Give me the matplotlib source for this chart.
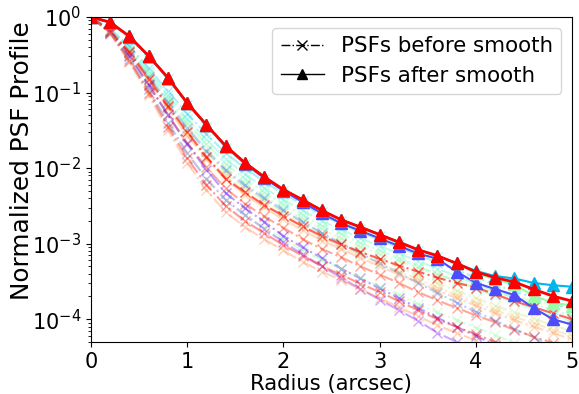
import numpy as np
import matplotlib
matplotlib.use("Agg")
import matplotlib.pyplot as plt
from matplotlib import cm

radius = [0.0, 0.2, 0.4, 0.6, 0.8, 1.0, 1.2, 1.4, 1.6, 1.8, 2.0, 2.2, 2.4,
          2.6, 2.8, 3.0, 3.2, 3.4, 3.6, 3.8, 4.0, 4.2, 4.4, 4.6, 4.8, 5.0]

# PSFs before smooth: log10 of normalized profile, with rainbow colour fraction
before_cfrac = [0.35, 0.30, 0.40, 0.47, 0.58, 0.65, 0.15, 0.72, 0.80, 0.97,
                0.92, 0.05, 0.00, 0.55, 1.00, 0.83]
before_alpha = [0.35, 0.35, 0.35, 0.35, 0.35, 0.35, 0.35, 0.35, 0.35, 0.65,
                0.45, 0.45, 0.35, 0.35, 0.4, 0.35]
before_log = [
    [0, -0.09, -0.28, -0.54, -0.82, -1.16, -1.45, -1.73, -1.95, -2.14, -2.30, -2.44, -2.58, -2.70, -2.80, -2.90, -3.00, -3.10, -3.18, -3.28, -3.39, -3.47, -3.53, -3.62, -3.71, -3.78],
    [0, -0.16, -0.38, -0.68, -0.98, -1.28, -1.55, -1.80, -2.00, -2.18, -2.34, -2.48, -2.62, -2.74, -2.85, -2.95, -3.05, -3.15, -3.25, -3.35, -3.45, -3.54, -3.63, -3.71, -3.79, -3.87],
    [0, -0.17, -0.40, -0.72, -1.03, -1.35, -1.62, -1.88, -2.08, -2.26, -2.42, -2.56, -2.70, -2.81, -2.93, -3.03, -3.13, -3.23, -3.33, -3.43, -3.53, -3.62, -3.72, -3.80, -3.88, -3.96],
    [0, -0.17, -0.42, -0.74, -1.07, -1.40, -1.68, -1.94, -2.14, -2.32, -2.48, -2.62, -2.76, -2.87, -2.99, -3.09, -3.19, -3.30, -3.40, -3.50, -3.60, -3.69, -3.78, -3.87, -3.95, -4.03],
    [0, -0.18, -0.44, -0.77, -1.11, -1.44, -1.74, -2.00, -2.20, -2.37, -2.53, -2.67, -2.81, -2.93, -3.04, -3.14, -3.23, -3.32, -3.41, -3.49, -3.57, -3.64, -3.70, -3.76, -3.81, -3.86],
    [0, -0.18, -0.45, -0.80, -1.15, -1.50, -1.79, -2.06, -2.26, -2.43, -2.59, -2.73, -2.87, -2.98, -3.10, -3.20, -3.31, -3.42, -3.52, -3.62, -3.72, -3.82, -3.91, -3.99, -4.08, -4.16],
    [0, -0.18, -0.45, -0.79, -1.13, -1.47, -1.77, -2.03, -2.23, -2.40, -2.56, -2.71, -2.86, -3.00, -3.13, -3.26, -3.39, -3.52, -3.65, -3.78, -3.90, -4.02, -4.13, -4.24, -4.35, -4.45],
    [0, -0.18, -0.47, -0.82, -1.19, -1.54, -1.85, -2.11, -2.31, -2.48, -2.64, -2.78, -2.92, -3.04, -3.15, -3.26, -3.37, -3.47, -3.58, -3.68, -3.78, -3.88, -3.97, -4.05, -4.14, -4.22],
    [0, -0.19, -0.48, -0.84, -1.21, -1.57, -1.88, -2.15, -2.35, -2.52, -2.68, -2.82, -2.96, -3.07, -3.19, -3.30, -3.41, -3.51, -3.62, -3.72, -3.82, -3.92, -4.01, -4.10, -4.18, -4.27],
    [0, -0.19, -0.47, -0.82, -1.18, -1.52, -1.85, -2.14, -2.32, -2.49, -2.63, -2.77, -2.90, -3.01, -3.11, -3.20, -3.29, -3.37, -3.45, -3.52, -3.58, -3.67, -3.76, -3.84, -3.92, -4.00],
    [0, -0.20, -0.51, -0.89, -1.29, -1.67, -1.99, -2.27, -2.47, -2.64, -2.79, -2.94, -3.07, -3.18, -3.30, -3.41, -3.52, -3.64, -3.75, -3.85, -3.95, -4.04, -4.14, -4.23, -4.31, -4.40],
    [0, -0.20, -0.52, -0.90, -1.30, -1.68, -2.02, -2.33, -2.53, -2.71, -2.90, -3.05, -3.19, -3.33, -3.46, -3.59, -3.72, -3.85, -3.98, -4.10, -4.22, -4.34, -4.45, -4.56, -4.66, -4.76],
    [0, -0.21, -0.56, -0.96, -1.40, -1.80, -2.14, -2.42, -2.62, -2.80, -2.98, -3.14, -3.30, -3.45, -3.60, -3.74, -3.88, -4.02, -4.18, -4.30, -4.42, -4.53, -4.64, -4.75, -4.85, -4.95],
    [0, -0.21, -0.56, -0.96, -1.40, -1.80, -2.14, -2.42, -2.62, -2.79, -2.94, -3.09, -3.22, -3.33, -3.45, -3.57, -3.68, -3.80, -3.91, -4.01, -4.11, -4.21, -4.31, -4.40, -4.49, -4.57],
    [0, -0.21, -0.58, -1.00, -1.45, -1.87, -2.22, -2.50, -2.70, -2.86, -3.02, -3.16, -3.30, -3.41, -3.53, -3.64, -3.76, -3.88, -4.00, -4.10, -4.20, -4.30, -4.40, -4.48, -4.57, -4.66],
    [0, -0.22, -0.60, -1.03, -1.50, -1.93, -2.29, -2.58, -2.78, -2.94, -3.09, -3.24, -3.37, -3.48, -3.60, -3.72, -3.84, -3.96, -4.08, -4.18, -4.28, -4.38, -4.48, -4.57, -4.66, -4.75],
]

# PSFs after smooth (log10), drawn in this order (red last, on top)
after_cfrac = [0.10, 0.55, 0.25, 1.00]
after_log = [
    [0, -0.071, -0.26, -0.52, -0.81, -1.14, -1.43, -1.71, -1.94, -2.13, -2.30, -2.45, -2.60, -2.73, -2.83, -2.93, -3.03, -3.13, -3.20, -3.37, -3.52, -3.60, -3.68, -3.85, -4.00, -4.07],
    [0, -0.071, -0.257, -0.516, -0.804, -1.137, -1.427, -1.707, -1.929, -2.116, -2.284, -2.42, -2.56, -2.684, -2.78, -2.88, -2.98, -3.08, -3.16, -3.26, -3.39, -3.47, -3.54, -3.69, -3.78, -3.82],
    [0, -0.071, -0.257, -0.516, -0.804, -1.137, -1.427, -1.707, -1.929, -2.116, -2.284, -2.42, -2.56, -2.684, -2.78, -2.88, -2.98, -3.08, -3.16, -3.26, -3.36, -3.43, -3.46, -3.52, -3.55, -3.57],
    [0, -0.071, -0.257, -0.516, -0.804, -1.137, -1.427, -1.707, -1.929, -2.116, -2.284, -2.42, -2.56, -2.684, -2.78, -2.88, -2.98, -3.08, -3.16, -3.26, -3.373, -3.449, -3.507, -3.604, -3.693, -3.76],
]

legend_labels = ["PSFs before smooth", "PSFs after smooth"]

plt.rcParams['font.family'] = ['DejaVu Sans']
plt.rcParams['font.size'] = 15

fig = plt.figure(figsize=(5.79, 3.94), dpi=100)
ax = fig.add_axes([0.157, 0.132, 0.831, 0.825])

r = np.array(radius)
for cf, al, vals in zip(before_cfrac, before_alpha, before_log):
    ax.plot(r, 10 ** np.array(vals), linestyle='-.', marker='x', ms=7,
            lw=1.5, color=cm.rainbow(cf), alpha=al)

for i, (cf, vals) in enumerate(zip(after_cfrac, after_log)):
    last = i == len(after_log) - 1
    ax.plot(r, 10 ** np.array(vals), linestyle='-', marker='^',
            ms=9 if last else 8, lw=2.0 if last else 1.5, color=cm.rainbow(cf))

ax.plot([], [], 'k-.x', lw=1.0, ms=7, label=legend_labels[0])
ax.plot([], [], 'k-^', lw=1.0, ms=7, label=legend_labels[1])

ax.set_yscale('log')
ax.set_xlim(0, 5)
ax.set_ylim(5e-5, 1)
ax.set_xticks([0, 1, 2, 3, 4, 5])
ax.tick_params(labelsize=15)
ax.set_xlabel("Radius (arcsec)", fontsize=15.2, labelpad=2)
ax.set_ylabel("Normalized PSF Profile", fontsize=17.8)
ax.yaxis.set_label_coords(-0.143, 0.558)
ax.yaxis.label.set_verticalalignment('center')
ax.legend(loc='upper right', fontsize=15.4, handlelength=2.0,
          borderaxespad=0.5, labelspacing=0.45, borderpad=0.4)

fig.savefig("out.png", dpi=100)
